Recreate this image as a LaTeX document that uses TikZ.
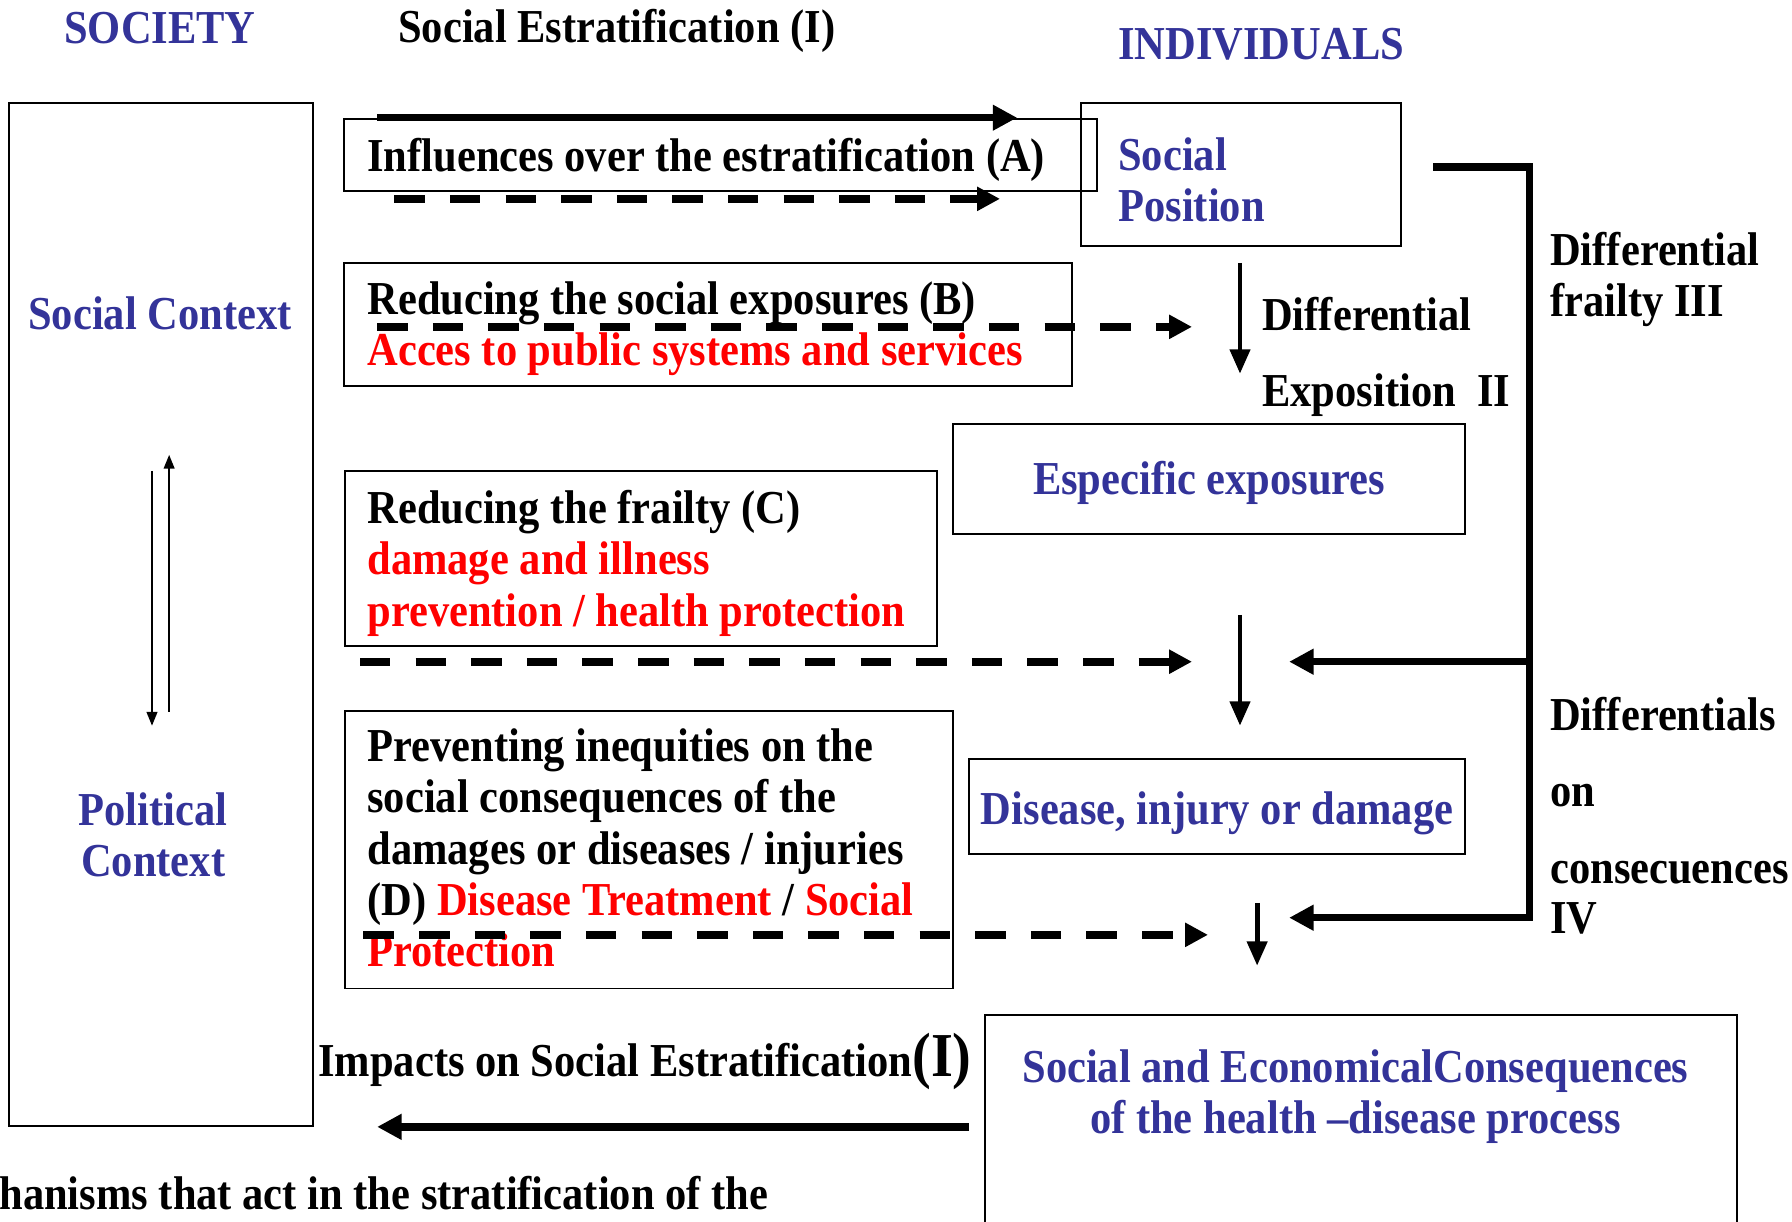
\documentclass[tikz,border=0pt]{standalone}
\usepackage{fontspec}
\setmainfont{Liberation Serif}[FakeStretch=0.9]
\usetikzlibrary{arrows.meta}

\definecolor{socblue}{RGB}{51,51,153}
\definecolor{socred}{RGB}{255,0,0}

\tikzset{every picture/.style={line width=0.75pt}}
\tikzset{
  txt/.style={inner sep=0.75pt, font=\bfseries\fontsize{31}{33.75}\selectfont, align=left},
  bluetxt/.style={txt, text=socblue},
  frame/.style={line width=1.2pt},
  thickarrow/.style={line width=4.8pt, -{Triangle[length=16pt,width=16pt]}},
  dasharrow/.style={line width=5pt, dash pattern=on 20pt off 16.5pt, -{Triangle[length=15pt,width=15pt]}},
  downarrow/.style={line width=3.2pt, -{Triangle[length=16pt,width=13pt]}},
  thinarrow/.style={line width=1.2pt, -{Triangle[length=9pt,width=7pt]}},
}

\begin{document}
\begin{tikzpicture}[x=0.75pt,y=0.75pt,yscale=-1,xscale=1]
\useasboundingbox (0,0) rectangle (1568,1069);
\clip (0,0) rectangle (1568,1069);

%Shape: Rectangle
\draw [frame] (8,90) -- (274,90) -- (274,985) -- (8,985) -- cycle ;
%Shape: Rectangle
\draw [frame] (301,104) -- (960,104) -- (960,167) -- (301,167) -- cycle ;
%Shape: Rectangle
\draw [frame] (946,90) -- (1226,90) -- (1226,215) -- (946,215) -- cycle ;
%Shape: Rectangle
\draw [frame] (301,230) -- (938,230) -- (938,338) -- (301,338) -- cycle ;
%Shape: Rectangle
\draw [frame] (834,371) -- (1282,371) -- (1282,467) -- (834,467) -- cycle ;
%Shape: Rectangle
\draw [frame] (302,412) -- (820,412) -- (820,565) -- (302,565) -- cycle ;
%Shape: Rectangle
\draw [frame] (848,664) -- (1282,664) -- (1282,747) -- (848,747) -- cycle ;
%Shape: Rectangle
\draw [frame] (302,622) -- (834,622) -- (834,865) -- (302,865) -- cycle ;
%Shape: Rectangle
\draw [frame] (862,1100) -- (862,888) -- (1520,888) -- (1520,1100) ;

% Text Node
\draw (140,38) node [anchor=base][bluetxt] (society) {SOCIETY};
% Text Node
\draw (347,37) node [anchor=base west][txt] (strat) {Social Estratification (I)};
% Text Node
\draw (977,52) node [anchor=base west][bluetxt] (indiv) {INDIVIDUALS};
% Text Node
\draw (140,288) node [anchor=base][bluetxt] (soccontext) {Social Context};
% Text Node
\draw (134,767) node [anchor=base][bluetxt, align=center] (polcontext) {Political\\Context};
% Text Node
\draw (320,150) node [anchor=base west][txt] (txtA) {Influences over the estratification (A)};
% Text Node
\draw (977,194) node [anchor=base west][bluetxt] (position) {Social\\Position};
% Text Node
\draw (1355,277) node [anchor=base west][txt] (frailty) {Differential\\frailty III};
% Text Node
\draw (320,320) node [anchor=base west][txt] (txtB) {Reducing the social exposures (B)\\\textcolor{socred}{Acces to public systems and services}};
% Text Node
\draw (1103,289) node [anchor=base west][txt] (expo1) {Differential};
% Text Node
\draw (1103,356) node [anchor=base west][txt] (expo2) {Exposition\ \ II};
% Text Node
\draw (1058,433) node [anchor=base][bluetxt] (especific) {Especific exposures};
% Text Node
\draw (320,548) node [anchor=base west][txt] (txtC) {Reducing the frailty (C)\\\textcolor{socred}{damage and illness}\\\textcolor{socred}{prevention / health protection}};
% Text Node
\draw (320,846) node [anchor=base west][txt] (txtD) {Preventing inequities on the\\social consequences of the\\damages or diseases / injuries\\(D) \textcolor{socred}{Disease Treatment} / \textcolor{socred}{Social}\\\textcolor{socred}{Protection}};
% Text Node
\draw (1065,721) node [anchor=base][bluetxt] (disease) {Disease, injury or damage};
% Text Node
\draw (1355,639) node [anchor=base west][txt] (conseq1) {Differentials};
% Text Node
\draw (1355,706) node [anchor=base west][txt] (conseq2) {on};
% Text Node
\draw (1355,773) node [anchor=base west][txt] (conseq3) {consecuences};
% Text Node
\draw (1355,817) node [anchor=base west][txt] (conseq4) {IV};
% Text Node
\draw (277,942) node [anchor=base west][txt] (impacts) {Impacts on Social Estratification{\fontsize{41}{44}\selectfont(I)}};
% Text Node
\draw (1186,992) node [anchor=base][bluetxt, align=center] (econ) {Social and EconomicalConsequences\\of the health --disease process};
% Text Node
\draw (-2,1058) node [anchor=base west][txt] (mech) {hanisms that act in the stratification of the};

% Arrow ends
\coordinate (solA1) at (330,103);
\coordinate (solA2) at (890,103);
\coordinate (dasA1) at (345,174);
\coordinate (dasA2) at (875,174);
\coordinate (dasB1) at (330,286);
\coordinate (dasB2) at (1043,286);
\coordinate (dasC1) at (315,579);
\coordinate (dasC2) at (1043,579);
\coordinate (dasD1) at (318,818);
\coordinate (dasD2) at (1057,818);
\coordinate (down1a) at (1085,230);
\coordinate (down1b) at (1085,327);
\coordinate (down2a) at (1085,538);
\coordinate (down2b) at (1085,635);
\coordinate (down3a) at (1100,790);
\coordinate (down3b) at (1100,845);
\coordinate (brk1) at (1254,146);
\coordinate (brk2) at (1338,803);
\coordinate (brk3) at (1338,579);
\coordinate (tipC) at (1128,579);
\coordinate (tipD) at (1128,803);
\coordinate (back1) at (848,986);
\coordinate (back2) at (330,986);
\coordinate (polDown1) at (133,412);
\coordinate (polDown2) at (133,635);
\coordinate (polUp1) at (148,623);
\coordinate (polUp2) at (148,398);

%Straight Lines
\draw [thickarrow] (solA1) -- (solA2) ;
\draw [dasharrow] (dasA1) -- (dasA2) ;
\draw [dasharrow] (dasB1) -- (dasB2) ;
\draw [dasharrow] (dasC1) -- (dasC2) ;
\draw [dasharrow] (dasD1) -- (dasD2) ;
\draw [downarrow] (down1a) -- (down1b) ;
\draw [downarrow] (down2a) -- (down2b) ;
\draw [downarrow] (down3a) -- (down3b) ;
%Elbow
\draw [thickarrow] (brk1) -| (brk2) -- (tipD) ;
\draw [thickarrow] (brk3) -- (tipC) ;
\draw [thickarrow] (back1) -- (back2) ;
\draw [thinarrow] (polDown1) -- (polDown2) ;
\draw [thinarrow] (polUp1) -- (polUp2) ;
\end{tikzpicture}
\end{document}
